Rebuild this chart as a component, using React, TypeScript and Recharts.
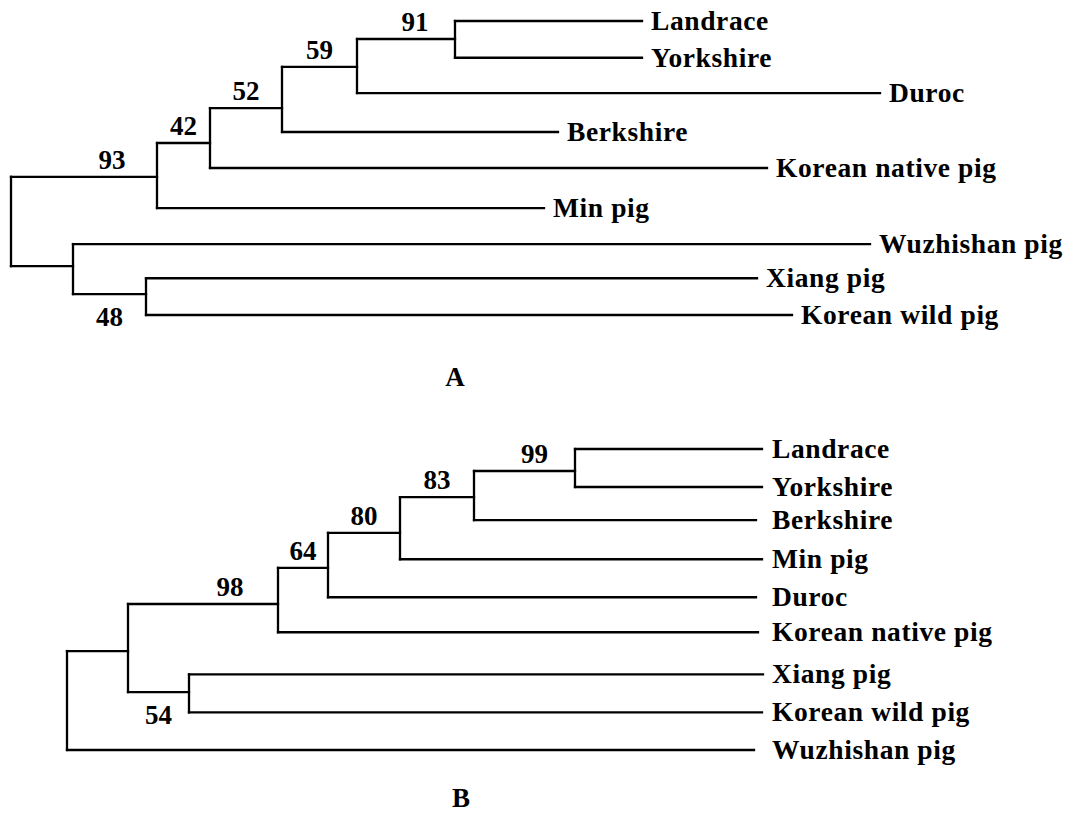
import React from "react";
import { ScatterChart, Scatter, XAxis, YAxis, ReferenceLine } from "recharts";

// tree A: clades (internal nodes) and leaves, depth = distance from root, row = vertical slot
const cladesA = [
  { id: "a0", parent: null, depth: 0, row: 5.5, support: null },
  { id: "a93", parent: "a0", depth: 14.6, row: 4.24, support: 93 },
  { id: "a42", parent: "a93", depth: 19.9, row: 3.32, support: 42 },
  { id: "a52", parent: "a42", depth: 27.1, row: 2.37, support: 52 },
  { id: "a59", parent: "a52", depth: 34.6, row: 1.25, support: 59 },
  { id: "a91", parent: "a59", depth: 44.4, row: 0.49, support: 91 },
  { id: "aW", parent: "a0", depth: 6.2, row: 6.67, support: null },
  { id: "a48", parent: "aW", depth: 13.5, row: 7.43, support: 48 },
];

const leavesA = [
  { name: "Landrace", parent: "a91", depth: 63.1, row: 0 },
  { name: "Yorkshire", parent: "a91", depth: 63.1, row: 1 },
  { name: "Duroc", parent: "a59", depth: 86.9, row: 1.96 },
  { name: "Berkshire", parent: "a52", depth: 54.7, row: 3.02 },
  { name: "Korean native pig", parent: "a42", depth: 75.6, row: 4 },
  { name: "Min pig", parent: "a93", depth: 53.3, row: 5.09 },
  { name: "Wuzhishan pig", parent: "aW", depth: 85.9, row: 6.07 },
  { name: "Xiang pig", parent: "a48", depth: 74.6, row: 7 },
  { name: "Korean wild pig", parent: "a48", depth: 78.1, row: 8 },
];

// tree B
const cladesB = [
  { id: "b0", parent: null, depth: 0, row: 6.7, support: null },
  { id: "bX", parent: "b0", depth: 6.1, row: 5.37, support: null },
  { id: "b98", parent: "bX", depth: 21.1, row: 4.12, support: 98 },
  { id: "b64", parent: "b98", depth: 26.1, row: 3.16, support: 64 },
  { id: "b80", parent: "b64", depth: 33.3, row: 2.23, support: 80 },
  { id: "b83", parent: "b80", depth: 40.7, row: 1.28, support: 83 },
  { id: "b99", parent: "b83", depth: 50.8, row: 0.585, support: 99 },
  { id: "b54", parent: "bX", depth: 12.2, row: 6.46, support: 54 },
];

const leavesB = [
  { name: "Landrace", parent: "b99", depth: 69.5, row: 0 },
  { name: "Yorkshire", parent: "b99", depth: 69.5, row: 1.01 },
  { name: "Berkshire", parent: "b83", depth: 68.9, row: 1.89 },
  { name: "Min pig", parent: "b80", depth: 69.5, row: 2.93 },
  { name: "Duroc", parent: "b64", depth: 68.9, row: 3.94 },
  { name: "Korean native pig", parent: "b98", depth: 69.1, row: 4.87 },
  { name: "Xiang pig", parent: "b54", depth: 69.6, row: 5.99 },
  { name: "Korean wild pig", parent: "b54", depth: 69.5, row: 7 },
  { name: "Wuzhishan pig", parent: "b0", depth: 68.7, row: 8 },
];

const FONT = "'Times New Roman', 'Liberation Serif', serif";
const belowLabels = ["a48", "b54"];
const labelNudge: Record<string, number> = { a93: 28, b98: 27, a91: 9, b99: 10 };

type Clade = (typeof cladesA)[number];
type Leaf = (typeof leavesA)[number];

function buildTree(clades: Clade[], leaves: Leaf[], alignLabels: boolean) {
  const byId: Record<string, Clade> = {};
  clades.forEach((c) => (byId[c.id] = c));
  const all = [...clades.map((c) => ({ ...c, key: c.id })), ...leaves.map((l) => ({ ...l, key: l.name }))];

  const segments: { x1: number; y1: number; x2: number; y2: number }[] = [];
  all.forEach((n) => {
    if (!n.parent) return;
    const p = byId[n.parent];
    segments.push({ x1: p.depth, y1: n.row, x2: n.depth, y2: n.row });
  });
  clades.forEach((c) => {
    const rows = all.filter((n) => n.parent === c.id).map((n) => n.row);
    segments.push({ x1: c.depth, y1: Math.min(...rows), x2: c.depth, y2: Math.max(...rows) });
  });

  const maxDepth = Math.max(...leaves.map((l) => l.depth));
  const leafPoints = leaves.map((l) => ({ x: alignLabels ? maxDepth : l.depth, y: l.row, name: l.name }));
  const supportPoints = clades
    .filter((c) => c.support !== null && c.parent)
    .map((c) => ({
      x: (byId[c.parent as string].depth + c.depth) / 2,
      y: c.row,
      name: String(c.support),
      id: c.id,
    }));
  return { segments, leafPoints, supportPoints };
}

const LeafText = (props: any) => (
  <text
    x={props.cx + 9}
    y={props.cy + 9}
    fontSize={27.5}
    letterSpacing={0.6}
    fontWeight="bold"
    fontFamily={FONT}
    fill="#000"
  >
    {props.payload.name}
  </text>
);

const SupportText = (props: any) => {
  const below = belowLabels.includes(props.payload.id);
  return (
    <text
      x={props.cx + (labelNudge[props.payload.id] || 0)}
      y={below ? props.cy + 32 : props.cy - 8}
      fontSize={27}
      fontWeight="bold"
      fontFamily={FONT}
      fill="#000"
      textAnchor="middle"
    >
      {props.payload.name}
    </text>
  );
};

const TreeChart = ({ tree, height, margin }: any) => (
  <ScatterChart width={1069} height={height} margin={margin}>
    <XAxis type="number" dataKey="x" domain={[0, 100]} hide />
    <YAxis type="number" dataKey="y" domain={[0, 8]} reversed hide />
    {tree.segments.map((s: any, i: number) => (
      <ReferenceLine
        key={i}
        segment={[
          { x: s.x1, y: s.y1 },
          { x: s.x2, y: s.y2 },
        ]}
        stroke="#000"
        strokeWidth={2.3}
        strokeLinecap="square"
        ifOverflow="visible"
      />
    ))}
    <Scatter data={tree.leafPoints} shape={LeafText} isAnimationActive={false} />
    <Scatter data={tree.supportPoints} shape={SupportText} isAnimationActive={false} />
  </ScatterChart>
);

const treeA = buildTree(cladesA, leavesA, false);
const treeB = buildTree(cladesB, leavesB, true);

const titleStyle: React.CSSProperties = {
  position: "absolute",
  width: 60,
  textAlign: "center",
  fontFamily: FONT,
  fontWeight: "bold",
  fontSize: 27,
  lineHeight: "27px",
};

export default function App() {
  return (
    <div style={{ position: "absolute", left: 0, top: 0, width: 1069, height: 819, background: "#fff" }}>
      <div style={{ position: "absolute", left: 0, top: 0 }}>
        <TreeChart tree={treeA} height={400} margin={{ top: 21, right: 58, bottom: 85, left: 11 }} />
      </div>
      <div style={{ position: "absolute", left: 0, top: 400 }}>
        <TreeChart tree={treeB} height={419} margin={{ top: 49, right: 2, bottom: 69, left: 67 }} />
      </div>
      <div style={{ ...titleStyle, left: 425, top: 364 }}>A</div>
      <div style={{ ...titleStyle, left: 431, top: 785 }}>B</div>
    </div>
  );
}
